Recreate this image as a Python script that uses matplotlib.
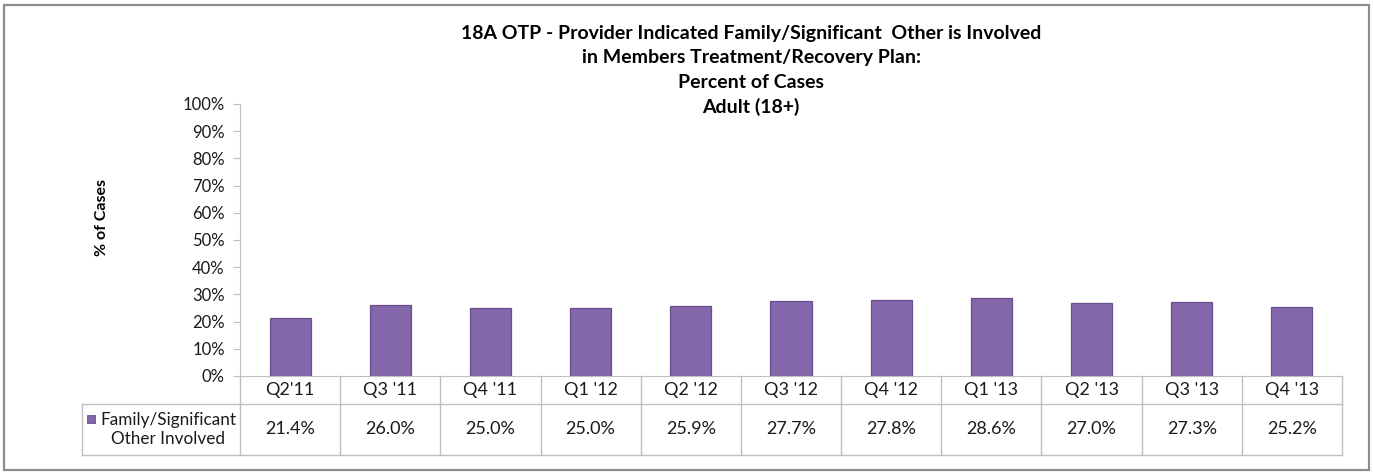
import matplotlib.pyplot as plt
import matplotlib.transforms as mtransforms
from matplotlib.patches import Rectangle
from matplotlib.lines import Line2D
from matplotlib.ticker import MultipleLocator, PercentFormatter

plt.rcParams['font.family'] = ['Lato', 'DejaVu Sans']

quarters = ["Q2'11", "Q3 '11", "Q4 '11", "Q1 '12", "Q2 '12", "Q3 '12",
            "Q4 '12", "Q1 '13", "Q2 '13", "Q3 '13", "Q4 '13"]
pct_cases = [21.4, 26.0, 25.0, 25.0, 25.9, 27.7, 27.8, 28.6, 27.0, 27.3, 25.2]
series_name = "Family/Significant\nOther Involved"
title = ("18A OTP - Provider Indicated Family/Significant  Other is Involved\n"
         "in Members Treatment/Recovery Plan:\nPercent of Cases\nAdult (18+)")

bar_color = '#8467ab'
edge_color = '#6a4f8c'
grid_gray = '#bfbfbf'

W, H = 1373, 475
fig = plt.figure(figsize=(W / 100, H / 100), dpi=100)

# outer chart border
fig.patches.append(Rectangle((4 / W, 5 / H), 1365 / W, 465 / H, transform=fig.transFigure,
                             fill=False, edgecolor='#8c8c8c', linewidth=1.6))

ax = fig.add_axes([240 / W, (H - 376) / H, 1102 / W, 272 / H])
x = list(range(len(quarters)))
ax.bar(x, pct_cases, width=0.41, color=bar_color, edgecolor=edge_color, linewidth=0.9)
ax.set_xlim(-0.5, len(quarters) - 0.5)
ax.set_ylim(0, 100)
ax.yaxis.set_major_locator(MultipleLocator(10))
ax.yaxis.set_major_formatter(PercentFormatter(decimals=0))
ax.tick_params(axis='y', direction='out', length=5, color=grid_gray, labelsize=12,
               labelcolor='#1a1a1a', pad=6)
ax.set_xticks([])
for s in ['top', 'right']:
    ax.spines[s].set_visible(False)
ax.spines['left'].set_color(grid_gray)
ax.spines['bottom'].set_color(grid_gray)

fig.text(102 / W, (H - 217) / H, '% of Cases', rotation=90, ha='center', va='center',
         fontsize=11.5, fontweight='bold')
fig.text(751 / W, (H - 25) / H, title, ha='center', va='top', fontsize=14,
         fontweight='bold', linespacing=1.52)

# data table under the axis
trans = mtransforms.blended_transform_factory(ax.transData, fig.transFigure)
y0, y1, y2 = (H - 376) / H, (H - 404) / H, (H - 455) / H
left_edge = -0.5 - (240 - 82) / (1102 / len(quarters))
for i, q in enumerate(quarters):
    ax.text(i, (y0 + y1) / 2, q, transform=trans, ha='center', va='center', fontsize=13,
            color='#1a1a1a', clip_on=False)
    ax.text(i, (y1 + y2) / 2, f'{pct_cases[i]:.1f}%', transform=trans, ha='center',
            va='center', fontsize=13, color='#1a1a1a', clip_on=False)
for b in [v - 0.5 for v in range(len(quarters) + 1)]:
    ax.add_line(Line2D([b, b], [y0, y2], transform=trans, color=grid_gray, lw=1, clip_on=False))
ax.add_line(Line2D([-0.5, len(quarters) - 0.5], [y1, y1], transform=trans, color=grid_gray,
                   lw=1, clip_on=False))
ax.add_line(Line2D([left_edge, len(quarters) - 0.5], [y2, y2], transform=trans, color=grid_gray,
                   lw=1, clip_on=False))
ax.add_line(Line2D([left_edge, -0.5], [y1, y1], transform=trans, color=grid_gray, lw=1,
                   clip_on=False))
ax.add_line(Line2D([left_edge, left_edge], [y1, y2], transform=trans, color=grid_gray, lw=1,
                   clip_on=False))

# legend key + series name
fig.patches.append(Rectangle((87 / W, (H - 423) / H), 8 / W, 8 / H, transform=fig.transFigure,
                             facecolor=bar_color, edgecolor=edge_color, linewidth=0.6))
fig.text(168 / W, (y1 + y2) / 2, series_name, ha='center', va='center', fontsize=12.3,
         color='#1a1a1a', linespacing=1.25)

fig.savefig('out.png', dpi=100)
